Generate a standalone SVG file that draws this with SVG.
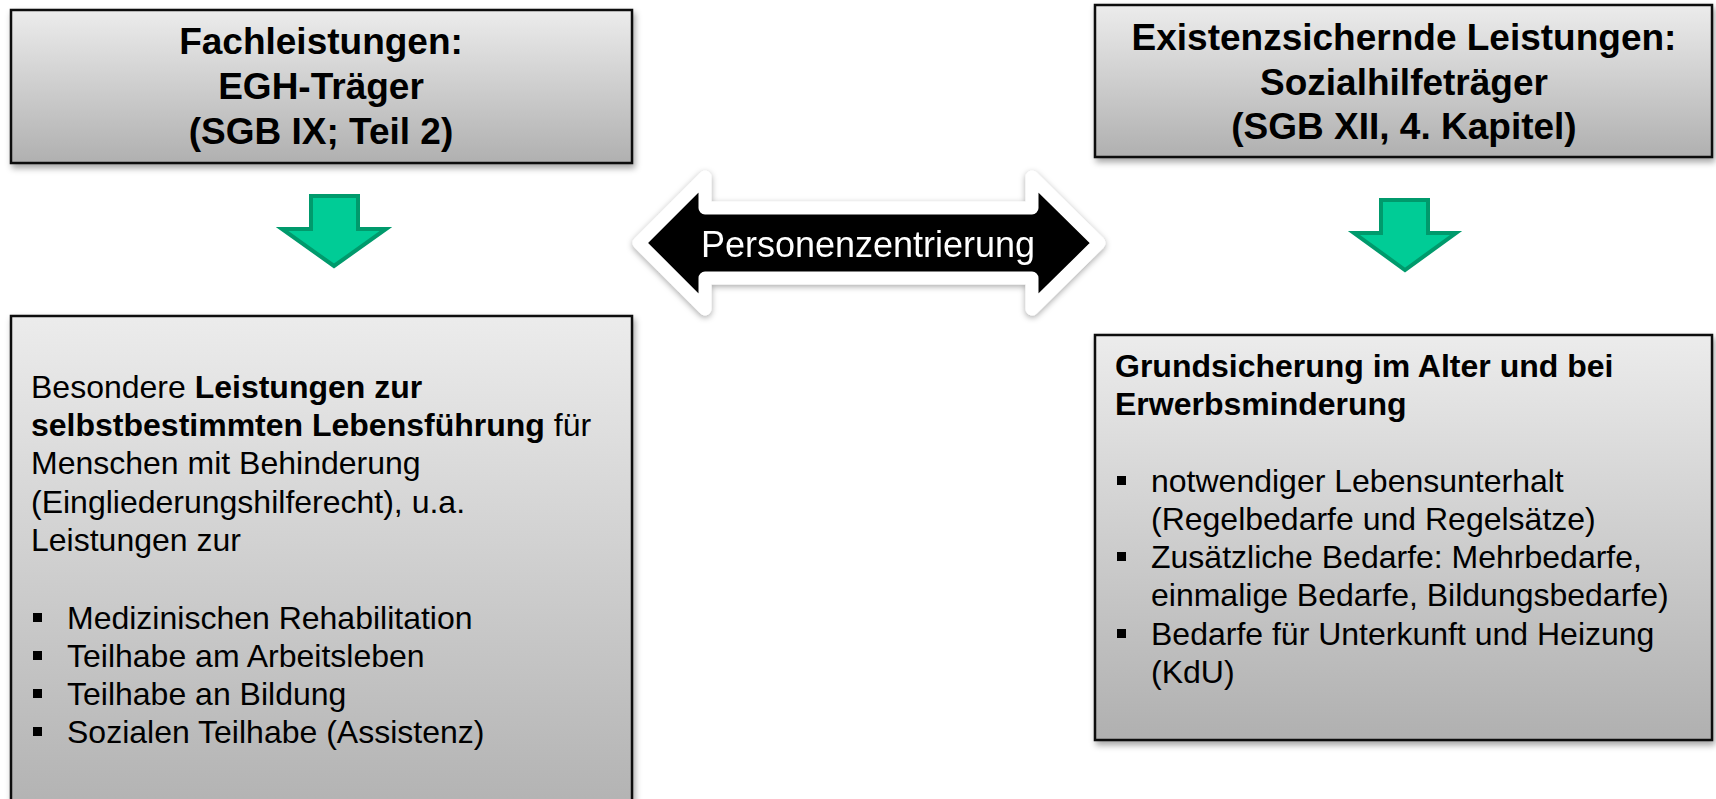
<svg xmlns="http://www.w3.org/2000/svg" width="1716" height="799" viewBox="0 0 1716 799">
  <defs>
    <linearGradient id="boxGrad" x1="0" y1="0" x2="0" y2="1">
      <stop offset="0" stop-color="#ececec"/>
      <stop offset="1" stop-color="#b0b0b0"/>
    </linearGradient>
    <linearGradient id="boxGradTall" gradientUnits="userSpaceOnUse" x1="0" y1="315" x2="0" y2="900">
      <stop offset="0" stop-color="#ececec"/>
      <stop offset="1" stop-color="#a8a8a8"/>
    </linearGradient>
    <filter id="shadow" x="-5%" y="-10%" width="115%" height="130%">
      <feDropShadow dx="2" dy="4" stdDeviation="3" flood-color="#000" flood-opacity="0.35"/>
    </filter>
    <filter id="arrowShadow" x="-10%" y="-20%" width="120%" height="140%">
      <feDropShadow dx="0" dy="2" stdDeviation="3" flood-color="#000" flood-opacity="0.35"/>
    </filter>
  </defs>
  <style>
    .box { stroke: #111; stroke-width: 2.5; }
    .head { font-family: "Liberation Sans", Arial, sans-serif; font-weight: bold; font-size: 37px; fill: #000; text-anchor: middle; }
    .body { font-family: "Liberation Sans", Arial, sans-serif; font-size: 32px; fill: #000; }
    .b { font-weight: bold; }
    .green { fill: #00cc96; stroke: #009a6c; stroke-width: 4; stroke-linejoin: miter; }
  </style>

  <g id="box-fachleistungen">
    <rect class="box" x="11" y="10" width="621" height="153" fill="url(#boxGrad)" filter="url(#shadow)"/>
    <text class="head" x="321" y="54">Fachleistungen:</text>
    <text class="head" x="321" y="99">EGH-Träger</text>
    <text class="head" x="321" y="144">(SGB IX; Teil 2)</text>
  </g>

  <g id="box-existenz">
    <rect class="box" x="1095" y="5" width="617" height="152" fill="url(#boxGrad)" filter="url(#shadow)"/>
    <text class="head" x="1404" y="50">Existenzsichernde Leistungen:</text>
    <text class="head" x="1404" y="95">Sozialhilfeträger</text>
    <text class="head" x="1404" y="139">(SGB XII, 4. Kapitel)</text>
  </g>

  <g id="box-leistungen">
    <rect class="box" x="11" y="316" width="621" height="560" fill="url(#boxGradTall)" filter="url(#shadow)"/>
    <text class="body" x="31" y="398">Besondere <tspan class="b">Leistungen zur</tspan></text>
    <text class="body" x="31" y="436"><tspan class="b">selbstbestimmten Lebensführung</tspan> für</text>
    <text class="body" x="31" y="474">Menschen mit Behinderung</text>
    <text class="body" x="31" y="513">(Eingliederungshilferecht), u.a.</text>
    <text class="body" x="31" y="551">Leistungen zur</text>
    <rect x="33" y="613" width="9" height="9" fill="#000"/>
    <text class="body" x="67" y="629">Medizinischen Rehabilitation</text>
    <rect x="33" y="651" width="9" height="9" fill="#000"/>
    <text class="body" x="67" y="667">Teilhabe am Arbeitsleben</text>
    <rect x="33" y="689" width="9" height="9" fill="#000"/>
    <text class="body" x="67" y="705">Teilhabe an Bildung</text>
    <rect x="33" y="727" width="9" height="9" fill="#000"/>
    <text class="body" x="67" y="743">Sozialen Teilhabe (Assistenz)</text>
  </g>

  <g id="box-grundsicherung">
    <rect class="box" x="1095" y="335" width="617" height="405" fill="url(#boxGrad)" filter="url(#shadow)"/>
    <text class="body b" x="1115" y="377">Grundsicherung im Alter und bei</text>
    <text class="body b" x="1115" y="415">Erwerbsminderung</text>
    <rect x="1117" y="476" width="9" height="9" fill="#000"/>
    <text class="body" x="1151" y="492">notwendiger Lebensunterhalt</text>
    <text class="body" x="1151" y="530">(Regelbedarfe und Regelsätze)</text>
    <rect x="1117" y="552" width="9" height="9" fill="#000"/>
    <text class="body" x="1151" y="568">Zusätzliche Bedarfe: Mehrbedarfe,</text>
    <text class="body" x="1151" y="606">einmalige Bedarfe, Bildungsbedarfe)</text>
    <rect x="1117" y="629" width="9" height="9" fill="#000"/>
    <text class="body" x="1151" y="645">Bedarfe für Unterkunft und Heizung</text>
    <text class="body" x="1151" y="683">(KdU)</text>
  </g>

  <g id="connectors">
    <polygon class="green" points="311,196 358,196 358,229 386,229 334,266 282,229 311,229"/>
    <polygon class="green" points="1381,200 1428,200 1428,233 1456,233 1405,270 1354,233 1381,233"/>
    <g id="personenzentrierung" filter="url(#arrowShadow)">
      <polygon points="639,243 705,177 705,208 1032,208 1032,177 1099,243 1032,309 1032,278 705,278 705,309" fill="#000" stroke="#fff" stroke-width="13" stroke-linejoin="round"/>
      <text x="868" y="257" font-family="'Liberation Sans', Arial, sans-serif" font-size="36" fill="#fff" text-anchor="middle">Personenzentrierung</text>
    </g>
  </g>
</svg>
